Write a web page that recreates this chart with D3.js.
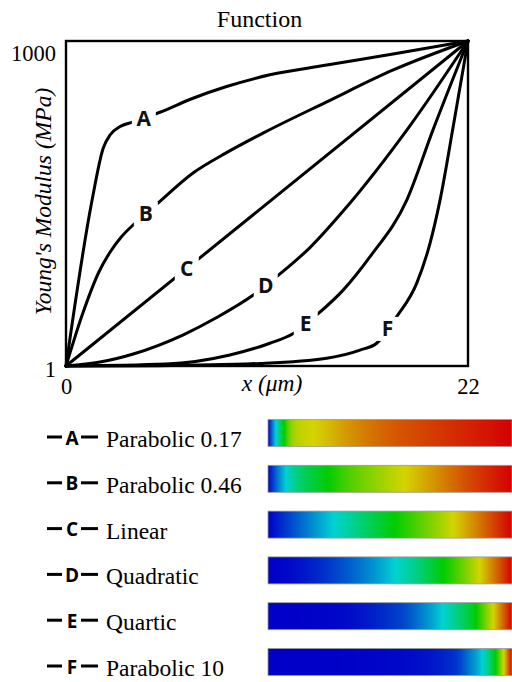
<!DOCTYPE html>
<html>
<head>
<meta charset="utf-8">
<script src="https://cdn.jsdelivr.net/npm/d3@7"></script>
<style>
  body { margin: 0; background: #fff; }
  svg { display: block; }
  .serif { font-family: "Liberation Serif", "Times New Roman", Tinos, "DejaVu Serif", serif; }
  .sansb { font-family: "Open Sans", "DejaVu Sans", sans-serif; font-weight: bold; }
</style>
</head>
<body>
<svg id="chart" width="512" height="682"></svg>
<script>
// ---------------- data ----------------
const seriesKeys  = ["A", "B", "C", "D", "E", "F"];
const seriesNames = ["Parabolic 0.17", "Parabolic 0.46", "Linear", "Quadratic", "Quartic", "Parabolic 10"];
const xTicks = [0, 22];
const yTicks = [1, 1000];

// [x (µm), Young's modulus (MPa)]
const seriesA = [[0,1],[1.41,506],[2.04,671],[2.41,711],[2.96,737],[3.60,750],[5.14,781],[6.95,824],[8.79,860],[11.16,896],[14.27,926],[17.90,960],[22,1000]];
const seriesB = [[0,1],[0.9,160],[1.8,290],[2.4,350],[3.0,396],[3.7,436],[4.4,470],[5.0,500],[6.97,595],[8.79,657],[10.89,720],[14.27,813],[17.91,911],[22,1000]];
const seriesC = [[0,1],[11,500],[22,1000]];
const seriesD = [[0,1],[1.86,13],[3.68,38],[6.42,97],[8.25,150],[10.25,219],[11.71,284],[13.35,365],[15.18,478],[18.83,740],[22,1000]];
const seriesE = [[0,1],[5.47,7],[8.97,35],[11.16,71],[12.44,101],[13.72,158],[15.18,235],[16.64,337],[18.65,511],[20.08,726],[22,1000]];
const seriesF = [[0,1],[5,2],[10.62,9],[14.27,25],[16.09,50],[17.0,71],[18.10,153],[19.19,255],[19.92,378],[20.47,511],[21.2,740],[22,1000]];
const allSeries = [seriesA, seriesB, seriesC, seriesD, seriesE, seriesF];

// x position (µm) of each curve letter
const labelX = [4.26, 4.37, 6.61, 10.93, 13.12, 17.59];

// colour map (normalised modulus -> colour) used by the bars
const colorStops = [0, 0.27, 0.52, 0.76, 1];
const colorRange = ["#0000c8", "#00d2d2", "#00cc00", "#d4d400", "#d40000"];

// ---------------- drawing ----------------
const svg = d3.select("#chart");

const x = d3.scaleLinear().domain([xTicks[0], xTicks[1]]).range([66, 468]);
const y = d3.scaleLinear().domain([yTicks[0], yTicks[1]]).range([366, 41]);
const color = d3.scaleLinear().domain(colorStops).range(colorRange);

// title
svg.append("text")
  .attr("class", "serif")
  .attr("x", 259.5).attr("y", 27)
  .attr("text-anchor", "middle")
  .attr("font-size", 24)
  .text("Function");

// frame
svg.append("rect")
  .attr("x", x(xTicks[0])).attr("y", y(yTicks[1]))
  .attr("width", x(xTicks[1]) - x(xTicks[0]))
  .attr("height", y(yTicks[0]) - y(yTicks[1]))
  .attr("fill", "none").attr("stroke", "#000").attr("stroke-width", 2.4);

// y axis
const gy = svg.append("g")
  .attr("transform", `translate(${x(xTicks[0])},0)`)
  .call(d3.axisLeft(y).tickValues(yTicks).tickFormat(d3.format("d")).tickSize(0).tickPadding(10));
gy.attr("font-family", null).attr("font-size", null);
gy.select(".domain").remove();
gy.selectAll("text")
  .attr("class", "serif").attr("font-size", 22.5).attr("fill", "#000")
  .attr("dy", d => d === yTicks[1] ? "0.85em" : "0.47em");

// x axis
const gx = svg.append("g")
  .attr("transform", `translate(0,${y(yTicks[0])})`)
  .call(d3.axisBottom(x).tickValues(xTicks).tickFormat(d3.format("d")).tickSize(0).tickPadding(0));
gx.attr("font-family", null).attr("font-size", null);
gx.select(".domain").remove();
gx.selectAll("text")
  .attr("class", "serif").attr("font-size", 22.5).attr("fill", "#000")
  .attr("y", 0).attr("dy", "1.24em");

// axis titles
svg.append("text")
  .attr("class", "serif")
  .attr("x", 272).attr("y", 391)
  .attr("text-anchor", "middle")
  .attr("font-size", 23.5).attr("font-style", "italic")
  .text("x (\u03bcm)");

svg.append("text")
  .attr("class", "serif")
  .attr("transform", "translate(51,201.5) rotate(-90)")
  .attr("text-anchor", "middle")
  .attr("font-size", 23.5).attr("font-style", "italic")
  .text("Young's Modulus (MPa)");

// curves
const line = d3.line().x(d => x(d[0])).y(d => y(d[1])).curve(d3.curveMonotoneX);
const paths = allSeries.map(s =>
  svg.append("path")
    .datum(s)
    .attr("d", line)
    .attr("fill", "none")
    .attr("stroke", "#000")
    .attr("stroke-width", 3)
    .attr("stroke-linecap", "round")
    .node()
);

// curve letters (y found on the curve at the given x)
function valueAt(series, xv) {
  const i = d3.bisector(d => d[0]).left(series, xv);
  if (i <= 0) return series[0][1];
  if (i >= series.length) return series[series.length - 1][1];
  const a = series[i - 1], b = series[i];
  return a[1] + (b[1] - a[1]) * (xv - a[0]) / (b[0] - a[0]);
}
seriesKeys.forEach((k, i) => {
  const cx = x(labelX[i]);
  const cy = y(valueAt(allSeries[i], labelX[i]));
  const g = svg.append("g").attr("transform", `translate(${cx},${cy})`);
  g.append("rect")
    .attr("x", -12).attr("y", -12).attr("width", 24).attr("height", 24)
    .attr("fill", "#fff");
  g.append("text")
    .attr("class", "sansb")
    .attr("text-anchor", "middle").attr("dy", "0.36em")
    .attr("font-size", 21)
    .attr("fill", "#111")
    .text(k);
});

// ---------------- legend with colour bars ----------------
const row = d3.scalePoint().domain(seriesKeys).range([419.5, 648.5]);
const barX = d3.scaleLinear().domain([xTicks[0], xTicks[1]]).range([268, 512]);
const defs = svg.append("defs");

seriesKeys.forEach((k, i) => {
  // gradient sampled along the drawn curve
  const p = paths[i];
  const L = p.getTotalLength();
  const grad = defs.append("linearGradient")
    .attr("id", "grad" + k)
    .attr("x1", "0%").attr("x2", "100%").attr("y1", "0%").attr("y2", "0%");
  const N = 240;
  let last = -1;
  for (let j = 0; j <= N; j++) {
    const pt = p.getPointAtLength(L * j / N);
    const xv = x.invert(pt.x), yv = y.invert(pt.y);
    let off = (xv - xTicks[0]) / (xTicks[1] - xTicks[0]);
    off = Math.max(0, Math.min(1, off));
    if (off < last) continue;
    last = off;
    const v = Math.max(0, Math.min(1, (yv - yTicks[0]) / (yTicks[1] - yTicks[0])));
    grad.append("stop").attr("offset", off).attr("stop-color", color(v));
  }

  const top = row(k);
  svg.append("rect")
    .attr("x", barX(xTicks[0])).attr("y", top)
    .attr("width", barX(xTicks[1]) - barX(xTicks[0])).attr("height", 27)
    .attr("fill", `url(#grad${k})`)
    .attr("stroke", "#9a9a9a").attr("stroke-width", 0.8);

  // "—A—" marker
  svg.append("line").attr("x1", 47).attr("x2", 62).attr("y1", top + 17.5).attr("y2", top + 17.5)
    .attr("stroke", "#000").attr("stroke-width", 3);
  svg.append("line").attr("x1", 81).attr("x2", 98).attr("y1", top + 17.5).attr("y2", top + 17.5)
    .attr("stroke", "#000").attr("stroke-width", 3);
  svg.append("text")
    .attr("class", "sansb")
    .attr("x", 72).attr("y", top + 25)
    .attr("text-anchor", "middle")
    .attr("font-size", 19)
    .text(k);

  svg.append("text")
    .attr("class", "serif")
    .attr("x", 106).attr("y", top + 27.5)
    .attr("font-size", 23.5)
    .text(seriesNames[i]);
});
</script>
</body>
</html>
